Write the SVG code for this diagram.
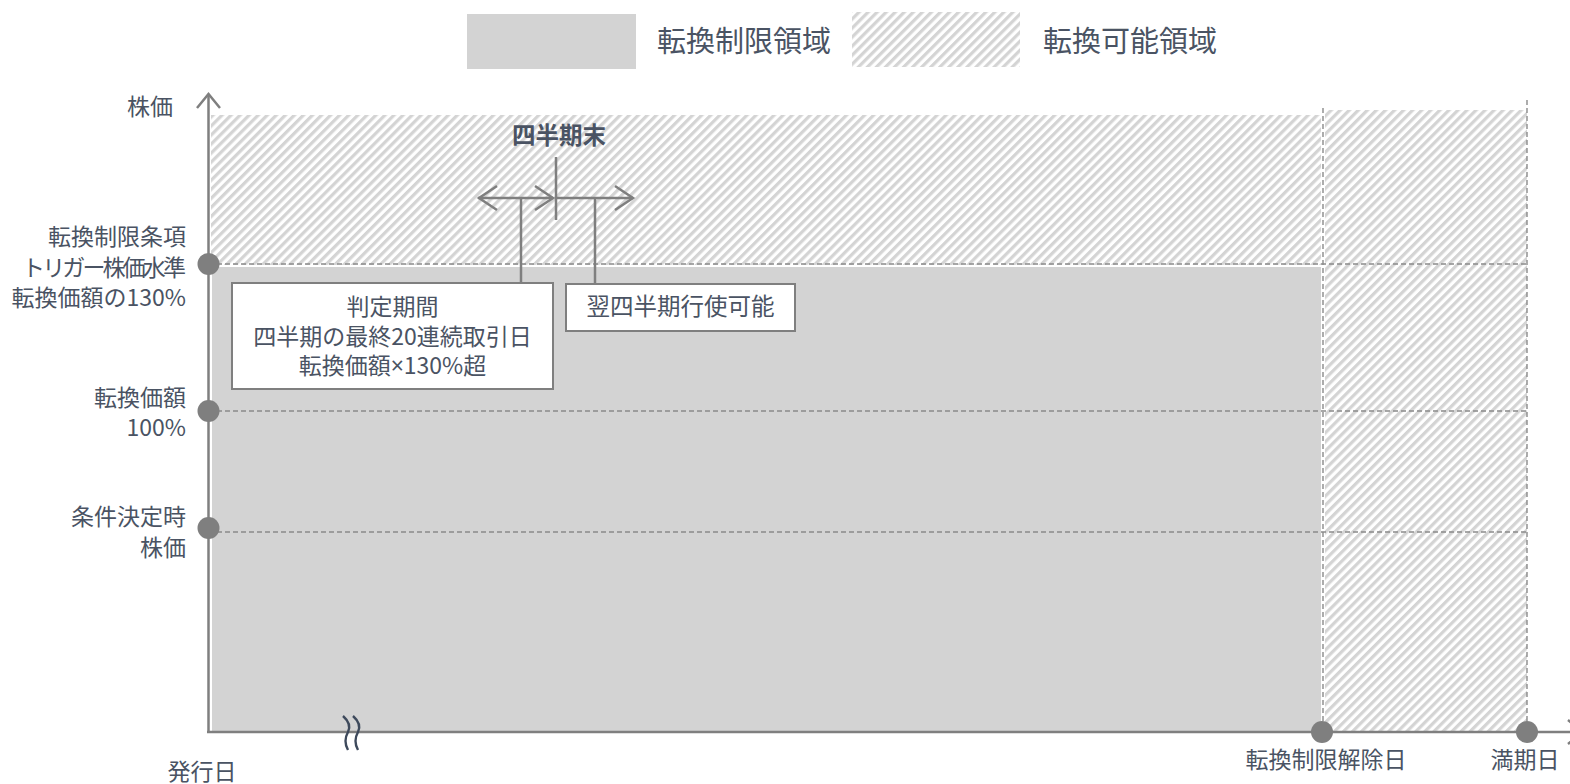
<svg xmlns="http://www.w3.org/2000/svg" width="1570" height="784" viewBox="0 0 1570 784">
<defs>
<pattern id="hatch" width="6.4" height="6.4" patternUnits="userSpaceOnUse" patternTransform="rotate(45)">
<rect width="6.4" height="6.4" fill="#ffffff"/>
<line x1="1.6" y1="0" x2="1.6" y2="6.4" stroke="#d4d4d4" stroke-width="3.2"/>
</pattern>
</defs>
<style>
text{font-family:"Noto Sans CJK JP","Noto Sans",sans-serif;fill:#4a5363;}
.lbl{font-size:23px;text-anchor:end;}
.leg{font-size:29px;}
.ctr{font-size:23px;text-anchor:middle;}
.lat{font-family:"Noto Sans",sans-serif;}
.ln{stroke:#7f7f7f;stroke-width:2.5;fill:none;}
.dash{stroke:#8a8a8a;stroke-width:1.4;stroke-dasharray:5 3;fill:none;}
.dot{fill:#7f7f7f;}
.box{fill:#ffffff;stroke:#7f7f7f;stroke-width:2;}
</style>
<rect width="1570" height="784" fill="#ffffff"/>

<g id="legend">
<rect x="467" y="14" width="169" height="55" fill="#d3d3d3"/>
<text class="leg" x="657" y="52">転換制限領域</text>
<rect x="852" y="12" width="168" height="55" fill="url(#hatch)"/>
<text class="leg" x="1043" y="52">転換可能領域</text>
</g>

<g id="regions">
<rect id="hatch-top" x="211" y="115" width="1110" height="150" fill="url(#hatch)"/>
<rect id="hatch-right" x="1325" y="110" width="202" height="621" fill="url(#hatch)"/>
<rect id="restricted" x="212" y="267" width="1109" height="464" fill="#d3d3d3"/>
</g>

<g id="gridlines">
<line class="dash" x1="209" y1="264" x2="1528" y2="264"/>
<line class="dash" x1="209" y1="411" x2="1528" y2="411"/>
<line class="dash" x1="209" y1="532" x2="1528" y2="532"/>
<line class="dash" x1="1323" y1="108" x2="1323" y2="732"/>
<line class="dash" x1="1527" y1="100" x2="1527" y2="732"/>
</g>

<g id="connectors">
<line class="ln" x1="208.5" y1="95" x2="208.5" y2="733"/>
<polyline class="ln" points="197,108 208.5,94 220,108"/>
<line class="ln" x1="207" y1="732" x2="1585" y2="732"/>
<polyline class="ln" points="1568,720 1583,732 1568,744"/>
<line class="ln" x1="478" y1="198" x2="553" y2="198"/>
<polyline class="ln" points="497,186 479,198 497,210"/>
<polyline class="ln" points="535,186 553,198 535,210"/>
<line class="ln" x1="556" y1="198" x2="633" y2="198"/>
<polyline class="ln" points="615,186 633,198 615,210"/>
<line class="ln" x1="556" y1="157" x2="556" y2="220"/>
<line class="ln" x1="521" y1="198" x2="521" y2="283"/>
<line class="ln" x1="595" y1="198" x2="595" y2="284"/>
</g>

<g id="break-mark" stroke="#3e4a5c" stroke-width="2.4" fill="none">
<path d="M343,716 Q352,724 348,732 Q343,741 348,750"/>
<path d="M353,716 Q362,724 358,732 Q353,741 358,750"/>
</g>

<g id="y-labels">
<text class="lbl" x="173" y="115">株価</text>
<g id="trigger">
<circle class="dot" cx="208.5" cy="264" r="11"/>
<text class="lbl" x="186" y="245">転換制限条項</text>
<text class="lbl" x="186" y="276" textLength="164" lengthAdjust="spacing">トリガー株価水準</text>
<text class="lbl" x="186" y="306">転換価額の130%</text>
</g>
<g id="conv-price">
<circle class="dot" cx="208.5" cy="411" r="11"/>
<text class="lbl" x="186" y="406">転換価額</text>
<text class="lbl" x="186" y="436">100%</text>
</g>
<g id="initial-price">
<circle class="dot" cx="208.5" cy="528" r="11"/>
<text class="lbl" x="186" y="525">条件決定時</text>
<text class="lbl" x="186" y="556">株価</text>
</g>
</g>

<g id="x-labels">
<text class="ctr" x="202" y="780">発行日</text>
<g id="release-date">
<circle class="dot" cx="1322" cy="732" r="11"/>
<text class="ctr" x="1326" y="768">転換制限解除日</text>
</g>
<g id="maturity">
<circle class="dot" cx="1527" cy="732" r="11"/>
<text class="ctr" x="1525" y="768">満期日</text>
</g>
</g>

<g id="quarter-end">
<text class="ctr" x="559" y="144" style="font-weight:bold;font-size:23.5px">四半期末</text>
</g>

<g id="judgement-box">
<rect class="box" x="232" y="283" width="321" height="106"/>
<text class="ctr" x="392.5" y="315">判定期間</text>
<text class="ctr" x="392.5" y="345">四半期の最終20連続取引日</text>
<text class="ctr" x="392.5" y="374">転換価額<tspan class="lat">×</tspan>130%超</text>
</g>

<g id="exercise-box">
<rect class="box" x="566" y="284" width="229" height="47"/>
<text class="ctr" x="680.5" y="315" style="font-size:23.5px">翌四半期行使可能</text>
</g>
</svg>
